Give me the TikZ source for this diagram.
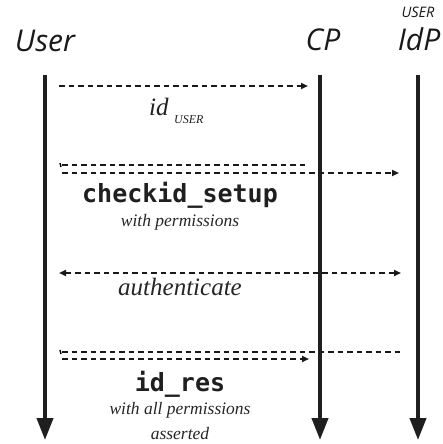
\documentclass[tikz,border=0pt]{standalone}
\usepackage{fontspec}
\setmainfont{Liberation Serif}
\newfontfamily\titlefont{Open Sans}
\newfontfamily\codefont[BoldFont={DejaVu Sans Mono Bold}]{DejaVu Sans Mono}
\usetikzlibrary{arrows.meta}
\begin{document}
\begin{tikzpicture}[x=1pt,y=-1pt,
  lifeline/.style={line width=4pt,color=black!88,-{Triangle[width=16pt,length=22pt]}},
  msg/.style={line width=1.9pt,color=black!90,dash pattern=on 5.5pt off 4pt},
  msgarrow/.style={msg,-{Triangle[width=6pt,length=7pt]}},
  title/.style={font=\titlefont\itshape\fontsize{30}{31}\selectfont,anchor=base,text=black!90},
  code/.style={font=\codefont\bfseries\fontsize{25}{26}\selectfont,anchor=base,text=black!88},
  note/.style={font=\itshape\fontsize{17.5}{18}\selectfont,anchor=base,text=black!85},
  inner sep=0pt]
\useasboundingbox (0,0) rectangle (443,444);
% titles
\node[title] (tuser) at (45,52) {User};
\node[title] (tcp) at (323,51) {CP};
\node[title] (tidp) at (419,51) {IdP};
\node[font=\titlefont\itshape\fontsize{14.5}{15}\selectfont,anchor=base,text=black!90] (tsub) at (418,18) {USER};
% lifelines
\coordinate (u0) at (45,75); \coordinate (u1) at (45,440);
\coordinate (c0) at (320,75); \coordinate (c1) at (320,440);
\coordinate (i0) at (418,75); \coordinate (i1) at (418,440);
\draw[lifeline] (u0) -- (u1);
\draw[lifeline] (c0) -- (c1);
\draw[lifeline] (i0) -- (i1);
% id message
\coordinate (a0) at (59,86); \coordinate (a1) at (308,86);
\draw[msgarrow] (a0) -- (a1);
\node[anchor=base west,font=\itshape\fontsize{25}{25}\selectfont,text=black!88] (idtxt) at (149,115) {id};
\node[anchor=base west,font=\itshape\fontsize{12}{12}\selectfont,text=black!88] (idsub) at (174,123) {USER};
% checkid_setup
\coordinate (b0) at (62,165); \coordinate (b1) at (305,165);
\coordinate (b2) at (62,173); \coordinate (b3) at (399,173);
\draw[msg] (b0) -- (b1);
\draw[msgarrow] (b2) -- (b3);
\draw[line width=1.4pt] (60,163) -- (61,167);
\node[code] (cs) at (180,202) {checkid\_setup};
\node[note] (csn) at (180,226) {with permissions};
% authenticate
\coordinate (d0) at (59,273); \coordinate (d1) at (401,273);
\draw[msg,{Triangle[width=6pt,length=7pt]}-{Triangle[width=6pt,length=7pt]}] (d0) -- (d1);
\node[note,font=\itshape\fontsize{25}{25}\selectfont] (auth) at (180,295) {authenticate};
% id_res
\coordinate (e0) at (62,352); \coordinate (e1) at (403,352);
\coordinate (e2) at (62,359); \coordinate (e3) at (309,359);
\draw[msg] (e0) -- (e1);
\draw[msgarrow] (e2) -- (e3);
\draw[line width=1.4pt] (60,350) -- (61,354);
\node[code] (ir) at (180,391) {id\_res};
\node[note] (irn1) at (180,414) {with all permissions};
\node[note] (irn2) at (180,439) {asserted};
\end{tikzpicture}
\end{document}
